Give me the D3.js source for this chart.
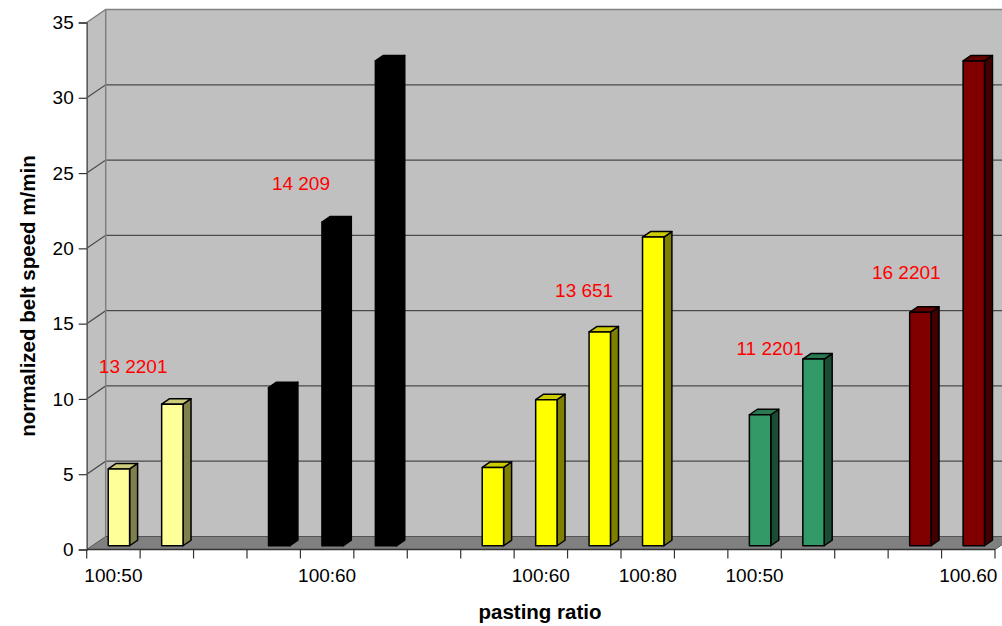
<!DOCTYPE html>
<html>
<head>
<meta charset="utf-8">
<script src="https://cdn.jsdelivr.net/npm/d3@7"></script>
<style>
  html, body { margin: 0; padding: 0; background: #fff; }
  svg { display: block; font-family: "Liberation Sans", Arial, sans-serif; }
</style>
</head>
<body>
<svg id="chart" width="1002" height="626"></svg>
<script>
// Category labels along the pasting-ratio axis (blank slots keep spacing)
const categories = ["100:50", "", "", "", "100:60", "", "", "", "100:60", "", "100:80", "", "100:50", "", "", "", "100.60"];
// Normalized belt speed per slot (null = no bar)
const speeds = [5.1, 9.4, null, 10.5, 21.5, 32.2, null, 5.2, 9.7, 14.2, 20.5, null, 8.7, 12.4, null, 15.5, 32.2];
// Series group of each slot
const groupOfSlot = [0, 0, null, 1, 1, 1, null, 2, 2, 2, 2, null, 3, 3, null, 4, 4];
const groupColors = ["#FFFF99", "#000000", "#FFFF00", "#339966", "#800000"];
const yTicks = [0, 5, 10, 15, 20, 25, 30, 35];
// Free-floating notes: text, position in slot units, height in m/min
const noteTexts = ["13 2201", "14 209", "13 651", "11 2201", "16 2201"];
const noteSlots = [0.87, 4.01, 9.31, 12.79, 15.34];
const noteHeights = [11.72, 23.87, 16.79, 12.92, 17.94];

(function () {
  const svg = d3.select("#chart");

  // Plot geometry (oblique 3-D box)
  const plotL = 86.7, plotR = 995, plotB = 549.5, plotT = 22.5;
  const depthX = 19, depthY = -13;          // floor / wall depth offset
  const barDX = 8, barDY = -5.5;             // bar depth offset
  const shiftX = (depthX - barDX) / 2, shiftY = (depthY - barDY) / 2;

  const x = d3.scaleBand().domain(d3.range(categories.length)).range([plotL, plotR]).padding(0);
  const slot = d3.scaleLinear().domain([0, categories.length]).range([plotL, plotR]);
  const y = d3.scaleLinear().domain([0, 35]).range([plotB, plotT]);

  const wallFill = "#C0C0C0", floorFill = "#808080", gridColor = "#4a4a4a", edgeColor = "#808080";

  // Back wall
  svg.append("rect")
    .attr("x", plotL + depthX).attr("y", y(35) + depthY)
    .attr("width", 1100).attr("height", y(0) - y(35))
    .attr("fill", wallFill);
  // Left side wall
  svg.append("path")
    .attr("d", `M${plotL},${y(0)} L${plotL},${y(35)} L${plotL + depthX},${y(35) + depthY} L${plotL + depthX},${y(0) + depthY} Z`)
    .attr("fill", wallFill);

  // Gridlines on side and back walls
  const gridVals = yTicks.filter(v => v > 0 && v < 35);
  svg.append("g").selectAll("path").data(gridVals).join("path")
    .attr("d", v => `M${plotL},${y(v)} L${plotL + depthX},${y(v) + depthY} L1010,${y(v) + depthY}`)
    .attr("fill", "none").attr("stroke", gridColor).attr("stroke-width", 1.2);

  // Wall edges
  svg.append("path")
    .attr("d", `M${plotL},${y(35)} L${plotL + depthX},${y(35) + depthY} L1010,${y(35) + depthY}`)
    .attr("fill", "none").attr("stroke", edgeColor).attr("stroke-width", 1.5);
  svg.append("line")
    .attr("x1", plotL + depthX).attr("x2", plotL + depthX)
    .attr("y1", y(35) + depthY).attr("y2", y(0) + depthY)
    .attr("stroke", edgeColor).attr("stroke-width", 1.5);

  // Floor
  svg.append("path")
    .attr("d", `M${plotL},${y(0)} L${plotR},${y(0)} L${plotR + depthX},${y(0) + depthY} L${plotL + depthX},${y(0) + depthY} Z`)
    .attr("fill", floorFill).attr("stroke", "#555").attr("stroke-width", 1);

  // Bars
  const shade = (c, k) => { const r = d3.rgb(c); return d3.rgb(r.r * k, r.g * k, r.b * k).formatHex(); };
  const barW = x.bandwidth() * 0.4;
  const bars = d3.range(categories.length).filter(i => speeds[i] != null);
  const bg = svg.append("g");
  bars.forEach(i => {
    const c = groupColors[groupOfSlot[i]];
    const x0 = x(i) + (x.bandwidth() - barW) / 2 + shiftX;
    const x1 = x0 + barW;
    const yb = y(0) + shiftY, yt = y(speeds[i]) + shiftY;
    const g = bg.append("g").attr("stroke", "#000").attr("stroke-width", 1.5).attr("stroke-linejoin", "round");
    g.append("path")
      .attr("d", `M${x1},${yb} L${x1 + barDX},${yb + barDY} L${x1 + barDX},${yt + barDY} L${x1},${yt} Z`)
      .attr("fill", shade(c, 0.5));
    g.append("path")
      .attr("d", `M${x0},${yt} L${x0 + barDX},${yt + barDY} L${x1 + barDX},${yt + barDY} L${x1},${yt} Z`)
      .attr("fill", shade(c, 0.8));
    g.append("rect")
      .attr("x", x0).attr("y", yt).attr("width", barW).attr("height", yb - yt)
      .attr("fill", c);
  });

  // Y axis
  const yAxis = svg.append("g")
    .attr("transform", `translate(${plotL},0)`)
    .call(d3.axisLeft(y).tickValues(yTicks).tickSize(8).tickPadding(5));
  yAxis.select(".domain").attr("stroke", "#555").attr("stroke-width", 1.5);
  yAxis.selectAll(".tick line").attr("stroke", "#333").attr("stroke-width", 1.2);
  yAxis.selectAll(".tick text").attr("font-size", 19).attr("fill", "#000")
    .attr("font-family", "Liberation Sans, Arial, sans-serif");

  // X axis: ticks at slot boundaries, labels at slot centres
  const xAxis = svg.append("g").attr("transform", `translate(0,${plotB})`);
  xAxis.append("line").attr("x1", plotL).attr("x2", plotR).attr("stroke", "#333").attr("stroke-width", 1.5);
  xAxis.selectAll("line.tk").data(d3.range(categories.length + 1)).join("line")
    .attr("class", "tk")
    .attr("x1", d => slot(d)).attr("x2", d => slot(d))
    .attr("y1", 0).attr("y2", 9)
    .attr("stroke", "#333").attr("stroke-width", 1.2);
  const xLab = svg.append("g").attr("transform", `translate(0,${plotB})`)
    .call(d3.axisBottom(x).tickSize(0).tickPadding(0).tickFormat(i => categories[i]));
  xLab.select(".domain").remove();
  xLab.selectAll(".tick text").attr("font-size", 19).attr("fill", "#000")
    .attr("dy", null).attr("y", 32)
    .attr("font-family", "Liberation Sans, Arial, sans-serif");

  // Notes
  svg.append("g").selectAll("text").data(noteTexts).join("text")
    .attr("x", (d, i) => slot(noteSlots[i]))
    .attr("y", (d, i) => y(noteHeights[i]))
    .attr("text-anchor", "middle")
    .attr("font-size", 19).attr("fill", "#FF0000")
    .text(d => d);

  // Axis titles
  svg.append("text")
    .attr("x", 540).attr("y", 619)
    .attr("text-anchor", "middle").attr("font-size", 20.5).attr("font-weight", "bold")
    .text("pasting ratio");
  svg.append("text")
    .attr("transform", "translate(35,296) rotate(-90)")
    .attr("text-anchor", "middle").attr("font-size", 20.5).attr("font-weight", "bold")
    .text("normalized belt speed m/min");
})();
</script>
</body>
</html>
